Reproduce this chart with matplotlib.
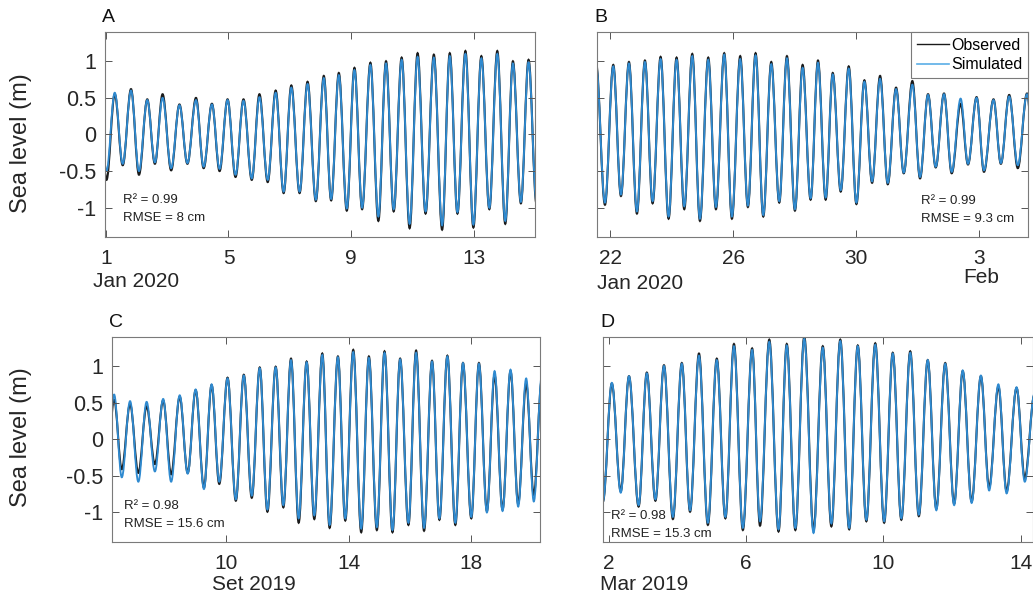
import matplotlib.pyplot as plt
from matplotlib.path import Path
from matplotlib.patches import PathPatch
from matplotlib.lines import Line2D

plt.rcParams['font.family'] = ['Liberation Sans', 'DejaVu Sans']

# high / low water times (day of month) and heights (m)
# A: Jan 2020
tA = [0.77, 1.02, 1.29, 1.55, 1.82, 2.08, 2.35, 2.60, 2.85, 3.13, 3.40, 3.66, 3.94, 4.19,
      4.46, 4.71, 4.97, 5.23, 5.49, 5.76, 6.01, 6.28, 6.54, 6.80, 7.05, 7.32, 7.58, 7.85,
      8.11, 8.35, 8.60, 8.86, 9.11, 9.36, 9.63, 9.89, 10.14, 10.39, 10.65, 10.91, 11.17,
      11.43, 11.70, 11.97, 12.22, 12.47, 12.73, 12.99, 13.25, 13.51, 13.77, 14.03, 14.28,
      14.54, 14.79, 15.05]
obsA = [0.50, -0.62, 0.55, -0.42, 0.62, -0.55, 0.48, -0.40, 0.55, -0.49, 0.41, -0.40, 0.50, -0.46,
        0.42, -0.50, 0.48, -0.58, 0.48, -0.62, 0.55, -0.65, 0.60, -0.80, 0.67, -0.80, 0.72, -0.91,
        0.80, -0.90, 0.84, -1.04, 0.91, -1.02, 0.98, -1.18, 1.00, -1.05, 1.05, -1.28, 1.11,
        -1.08, 1.09, -1.30, 1.11, -1.08, 1.14, -1.27, 1.07, -1.02, 1.14, -1.22, 1.00,
        -0.94, 1.02, -0.95]
simA = [0.50, -0.50, 0.57, -0.40, 0.60, -0.50, 0.47, -0.38, 0.50, -0.46, 0.40, -0.39, 0.47, -0.44,
        0.41, -0.47, 0.47, -0.55, 0.46, -0.60, 0.51, -0.62, 0.57, -0.78, 0.64, -0.78, 0.69, -0.89,
        0.77, -0.88, 0.81, -1.01, 0.88, -1.00, 0.95, -1.12, 0.97, -1.02, 1.02, -1.22, 1.06,
        -1.05, 1.05, -1.24, 1.07, -1.06, 1.10, -1.23, 1.04, -1.00, 1.10, -1.18, 0.97,
        -0.92, 0.99, -0.92]

# B: Jan/Feb 2020 (days after 31 are February)
tB = [21.53, 21.82, 22.09, 22.34, 22.60, 22.86, 23.12, 23.37, 23.63, 23.89, 24.15, 24.40,
      24.66, 24.91, 25.18, 25.43, 25.70, 25.95, 26.22, 26.47, 26.72, 26.97, 27.23, 27.49,
      27.74, 28.00, 28.25, 28.51, 28.75, 29.00, 29.23, 29.49, 29.75, 30.00, 30.26, 30.51,
      30.77, 31.02, 31.29, 31.54, 31.82, 32.07, 32.33, 32.58, 32.85, 33.10, 33.39, 33.63,
      33.91, 34.15, 34.46, 34.70, 34.97, 35.25, 35.55, 35.80]
obsB = [0.97, -0.96, 0.95, -0.84, 0.99, -1.08, 1.01, -0.94, 1.06, -1.15, 1.05, -1.02,
        1.10, -1.18, 1.05, -1.02, 1.11, -1.15, 1.07, -0.99, 1.11, -1.12, 0.99, -0.93,
        1.07, -1.04, 0.95, -0.89, 1.01, -0.89, 0.84, -0.78, 0.93, -0.95, 0.74, -0.66,
        0.80, -0.68, 0.64, -0.53, 0.73, -0.60, 0.55, -0.45, 0.56, -0.53, 0.42, -0.41,
        0.51, -0.51, 0.48, -0.40, 0.54, -0.46, 0.56, -0.50]
simB = [0.95, -0.93, 0.93, -0.82, 0.97, -1.05, 0.99, -0.91, 1.03, -1.12, 1.02, -0.98,
        1.07, -1.15, 1.02, -0.99, 1.09, -1.12, 1.03, -0.97, 1.08, -1.10, 0.96, -0.91,
        1.04, -1.02, 0.91, -0.87, 0.98, -0.86, 0.82, -0.76, 0.90, -0.93, 0.72, -0.64,
        0.76, -0.66, 0.62, -0.52, 0.68, -0.58, 0.54, -0.44, 0.55, -0.51, 0.49, -0.40,
        0.50, -0.49, 0.47, -0.39, 0.52, -0.42, 0.55, -0.48]

# C: Sep 2019
tC = [6.09, 6.35, 6.60, 6.87, 7.14, 7.41, 7.68, 7.95, 8.21, 8.49, 8.75, 9.01, 9.28, 9.53,
      9.78, 10.05, 10.32, 10.58, 10.84, 11.10, 11.35, 11.62, 11.87, 12.12, 12.37, 12.63,
      12.88, 13.14, 13.38, 13.65, 13.89, 14.15, 14.41, 14.66, 14.92, 15.17, 15.43, 15.68,
      15.95, 16.20, 16.46, 16.72, 16.96, 17.22, 17.48, 17.73, 18.00, 18.25, 18.51, 18.76,
      19.02, 19.28, 19.53, 19.79, 20.04, 20.30]
obsC = [-0.45, 0.54, -0.41, 0.48, -0.46, 0.45, -0.34, 0.53, -0.48, 0.58, -0.46, 0.67, -0.66, 0.74,
        -0.61, 0.84, -0.84, 0.88, -0.80, 0.98, -0.99, 0.99, -0.93, 1.10, -1.14, 1.06,
        -1.09, 1.17, -1.21, 1.13, -1.11, 1.22, -1.27, 1.13, -1.24, 1.20, -1.27, 1.10,
        -1.17, 1.21, -1.25, 1.07, -1.10, 1.14, -1.17, 1.04, -1.08, 1.04, -0.98, 0.88,
        -0.96, 0.93, -0.88, 0.76, -0.76, 0.80]
simC = [-0.50, 0.61, -0.52, 0.52, -0.58, 0.51, -0.44, 0.55, -0.58, 0.60, -0.47, 0.68, -0.68, 0.75,
        -0.58, 0.83, -0.82, 0.87, -0.77, 0.97, -0.96, 0.98, -0.90, 1.08, -1.08, 1.05,
        -1.04, 1.15, -1.17, 1.12, -1.08, 1.19, -1.22, 1.11, -1.20, 1.18, -1.24, 1.09,
        -1.14, 1.18, -1.21, 1.06, -1.08, 1.13, -1.14, 1.04, -1.06, 1.03, -1.00, 0.93,
        -0.98, 0.95, -0.92, 0.83, -0.85, 0.86]

# D: Mar 2019
tD = [1.82, 2.08, 2.34, 2.58, 2.86, 3.10, 3.35, 3.60, 3.86, 4.12, 4.36, 4.62, 4.88, 5.14,
      5.39, 5.64, 5.90, 6.17, 6.40, 6.67, 6.94, 7.18, 7.43, 7.69, 7.96, 8.23, 8.48, 8.74,
      9.00, 9.25, 9.50, 9.76, 10.02, 10.27, 10.52, 10.78, 11.03, 11.29, 11.54, 11.80,
      12.06, 12.31, 12.57, 12.84, 13.08, 13.35, 13.59, 13.88, 14.12, 14.40]
obsD = [-0.85, 0.76, -0.71, 0.86, -0.92, 0.91, -0.84, 1.01, -1.09, 1.04, -0.99, 1.17, -1.17, 1.10,
        -1.08, 1.30, -1.24, 1.24, -1.18, 1.36, -1.26, 1.30, -1.24, 1.40, -1.24, 1.27, -1.19, 1.36,
        -1.23, 1.28, -1.12, 1.31, -1.14, 1.18, -1.10, 1.20, -1.05, 1.08, -0.95, 1.04,
        -0.88, 0.93, -0.85, 0.86, -0.66, 0.72, -0.71, 0.70, -0.53, 0.60]
simD = [-0.85, 0.77, -0.73, 0.86, -0.90, 0.90, -0.82, 1.00, -1.06, 1.03, -0.97, 1.14, -1.14, 1.08,
        -1.06, 1.27, -1.21, 1.22, -1.12, 1.33, -1.23, 1.28, -1.21, 1.37, -1.28, 1.25, -1.15, 1.34,
        -1.21, 1.27, -1.10, 1.29, -1.12, 1.17, -1.08, 1.18, -1.03, 1.08, -0.97, 1.03,
        -0.90, 0.94, -0.87, 0.87, -0.70, 0.75, -0.74, 0.71, -0.58, 0.62]

OBS_C = '#1a1a1a'
SIM_C = '#2f8ad0'


def tide_path(t, y):
    # smooth curve through the extremes, flat at each high/low water
    verts = [(t[0], y[0])]
    codes = [Path.MOVETO]
    for i in range(len(t) - 1):
        d = (t[i + 1] - t[i]) * 0.3634
        verts += [(t[i] + d, y[i]), (t[i + 1] - d, y[i + 1]), (t[i + 1], y[i + 1])]
        codes += [Path.CURVE4] * 3
    return Path(verts, codes)


fig = plt.figure(figsize=(10.33, 5.98), dpi=100)

panels = [
    # letter, t, obs, sim, rect, xlim, ticks, ticklabels, ylabels, R2, RMSE, statpos
    ('A', tA, obsA, simA, [0.1016, 0.6037, 0.4163, 0.3428], (0.97, 15.0),
     [1, 5, 9, 13], ['1', '5', '9', '13'], True, '0.99', '8', (0.042, 0.18)),
    ('B', tB, obsB, simB, [0.5779, 0.6037, 0.4172, 0.3428], (21.56, 35.58),
     [22, 26, 30, 34], ['22', '26', '30', '3'], False, '0.99', '9.3', (0.752, 0.175)),
    ('C', tC, obsC, simC, [0.1081, 0.0941, 0.4146, 0.3428], (6.27, 20.24),
     [10, 14, 18], ['10', '14', '18'], True, '0.98', '15.6', (0.029, 0.175)),
    ('D', tD, obsD, simD, [0.5840, 0.0941, 0.4157, 0.3428], (1.83, 14.35),
     [2, 6, 10, 14], ['2', '6', '10', '14'], False, '0.98', '15.3', (0.017, 0.125)),
]

axes = {}
for letter, t, obs, sim, rect, xl, xt, xtl, ylab, r2, rmse, sp in panels:
    ax = fig.add_axes(rect)
    axes[letter] = ax
    ax.add_patch(PathPatch(tide_path(t, obs), fill=False, edgecolor=OBS_C, lw=1.5))
    ax.add_patch(PathPatch(tide_path(t, sim), fill=False, edgecolor=SIM_C, lw=1.35))
    ax.set_xlim(xl)
    ax.set_ylim(-1.4, 1.4)
    ax.set_xticks(xt)
    ax.set_xticklabels(xtl)
    ax.set_yticks([-1, -0.5, 0, 0.5, 1])
    if ylab:
        ax.set_yticklabels(['-1', '-0.5', '0', '0.5', '1'])
    else:
        ax.set_yticklabels([])
    ax.tick_params(direction='in', top=True, right=True, length=5, width=0.7,
                   color='#555555', labelcolor='#262626')
    ax.tick_params(axis='x', labelsize=15, pad=9)
    ax.tick_params(axis='y', labelsize=15.5, pad=6)
    for s in ax.spines.values():
        s.set_color('#7a7a7a')
        s.set_linewidth(0.8)
    ax.text(-0.006, 1.03, letter, transform=ax.transAxes, fontsize=14,
            ha='left', va='bottom', color='#111111')
    ax.text(sp[0], sp[1], 'R² = ' + r2, transform=ax.transAxes, fontsize=9.5,
            ha='left', va='center', color='#222222')
    ax.text(sp[0], sp[1] - 0.088, 'RMSE = ' + rmse + ' cm', transform=ax.transAxes,
            fontsize=9.5, ha='left', va='center', color='#222222')

# month / year labels under the first tick
axes['A'].text(-0.028, -0.215, 'Jan 2020', transform=axes['A'].transAxes, fontsize=15,
               ha='left', va='center', color='#262626')
axes['B'].text(0.0, -0.225, 'Jan 2020', transform=axes['B'].transAxes, fontsize=15,
               ha='left', va='center', color='#262626')
axes['B'].text(0.891, -0.2, 'Feb', transform=axes['B'].transAxes, fontsize=15,
               ha='center', va='center', color='#262626')
axes['C'].text(0.234, -0.211, 'Set 2019', transform=axes['C'].transAxes, fontsize=15,
               ha='left', va='center', color='#262626')
axes['D'].text(-0.008, -0.211, 'Mar 2019', transform=axes['D'].transAxes, fontsize=15,
               ha='left', va='center', color='#262626')

fig.text(21 / 1033, 1 - 143.5 / 598, 'Sea level (m)', rotation=90, fontsize=17,
         ha='center', va='center', color='#262626')
fig.text(21 / 1033, 1 - 437.5 / 598, 'Sea level (m)', rotation=90, fontsize=17,
         ha='center', va='center', color='#262626')

handles = [Line2D([], [], color=OBS_C, lw=1.0), Line2D([], [], color='#5aaee6', lw=1.2)]
leg = axes['B'].legend(handles, ['Observed', 'Simulated'], loc='upper right',
                       bbox_to_anchor=(1.0, 1.0), borderaxespad=0.0, fontsize=11.5,
                       handlelength=2.0, handletextpad=0.15, labelspacing=0.3,
                       borderpad=0.35, fancybox=False, framealpha=1.0)
leg.get_frame().set_edgecolor('#7a7a7a')
leg.get_frame().set_linewidth(0.8)

fig.savefig('out.png', dpi=100)
